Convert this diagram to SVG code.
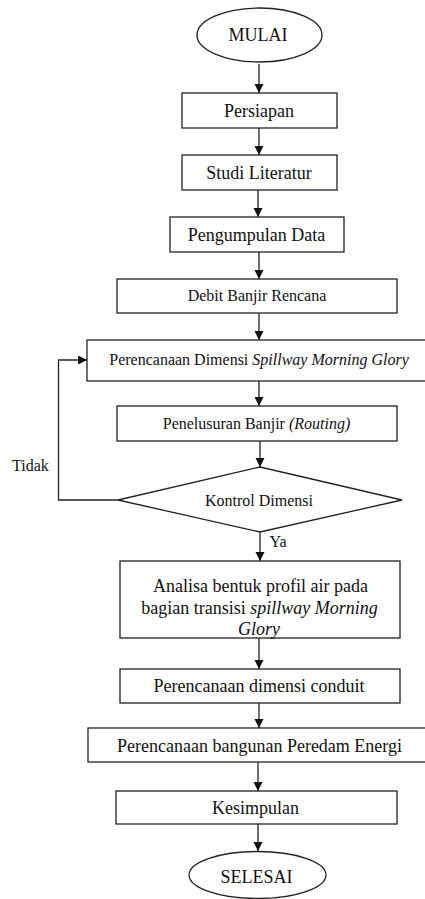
<svg xmlns="http://www.w3.org/2000/svg" width="425" height="899" viewBox="0 0 425 899" font-family="'Liberation Serif', 'Times New Roman', serif">
<style>
.n{fill:#fff;stroke:#222;stroke-width:1.3}
text{font-family:"Liberation Serif","Times New Roman",serif;fill:#111;text-anchor:middle}
.l{font-size:18px}
.s{font-size:16px}
.c{fill:none;stroke:#222;stroke-width:1.3}
</style>
<defs>
<marker id="ah" markerWidth="10" markerHeight="10" refX="9" refY="4.5" orient="auto" markerUnits="userSpaceOnUse">
<path d="M0,0 L9,4.5 L0,9 Z" fill="#111"/>
</marker>
</defs>
<rect width="425" height="899" fill="#fff"/>
<g id="connectors">
<line class="c" x1="259" y1="64" x2="259" y2="93" marker-end="url(#ah)"/>
<line class="c" x1="259" y1="128" x2="259" y2="155" marker-end="url(#ah)"/>
<line class="c" x1="258" y1="190" x2="258" y2="217" marker-end="url(#ah)"/>
<line class="c" x1="259" y1="252" x2="259" y2="279" marker-end="url(#ah)"/>
<line class="c" x1="259" y1="313" x2="259" y2="340" marker-end="url(#ah)"/>
<line class="c" x1="259" y1="381" x2="259" y2="406" marker-end="url(#ah)"/>
<line class="c" x1="260" y1="441" x2="260" y2="467" marker-end="url(#ah)"/>
<polyline class="c" points="118,500 58.5,500 58.5,360 87,360" marker-end="url(#ah)"/>
<line class="c" x1="260" y1="532" x2="260" y2="561" marker-end="url(#ah)"/>
<line class="c" x1="259" y1="638" x2="259" y2="669" marker-end="url(#ah)"/>
<line class="c" x1="259" y1="703" x2="259" y2="728" marker-end="url(#ah)"/>
<line class="c" x1="258" y1="762" x2="258" y2="791" marker-end="url(#ah)"/>
<line class="c" x1="258" y1="824" x2="258" y2="851" marker-end="url(#ah)"/>
<text class="s" x="30.5" y="471" font-family="'Liberation Serif', serif">Tidak</text>
<text class="s" x="278" y="547" font-family="'Liberation Serif', serif">Ya</text>
</g>
<g id="mulai"><ellipse class="n" cx="259.5" cy="35" rx="62.5" ry="27"/><text class="l" x="258" y="41">MULAI</text></g>
<g id="persiapan"><rect class="n" x="182" y="93" width="155" height="35"/><text class="l" x="259" y="117">Persiapan</text></g>
<g id="studi"><rect class="n" x="182" y="155" width="155" height="35"/><text class="l" x="259" y="179">Studi Literatur</text></g>
<g id="pengumpulan"><rect class="n" x="170" y="217" width="174" height="35"/><text class="l" x="256.5" y="240.5">Pengumpulan Data</text></g>
<g id="debit"><rect class="n" x="117" y="279" width="280" height="34"/><text class="s" x="257" y="300.5" font-family="'Liberation Serif', serif">Debit Banjir Rencana</text></g>
<g id="perencanaan-dimensi"><rect class="n" x="87" y="340" width="350" height="41"/><text class="s" x="259" y="364.5" font-family="'Liberation Serif', serif">Perencanaan Dimensi <tspan font-style="italic">Spillway Morning Glory</tspan></text></g>
<g id="penelusuran"><rect class="n" x="117" y="406" width="280" height="35"/><text class="s" x="256.5" y="429" font-family="'Liberation Serif', serif">Penelusuran Banjir <tspan font-style="italic">(Routing)</tspan></text></g>
<g id="kontrol"><polygon class="n" points="118,500 260,467 402,500 260,532"/><text class="s" x="259" y="505.5" font-family="'Liberation Serif', serif">Kontrol Dimensi</text></g>
<g id="analisa"><rect class="n" x="120" y="561" width="280" height="77"/>
<text class="l" x="260.5" y="591.5">Analisa bentuk profil air pada</text>
<text class="l" x="259.5" y="613.5">bagian transisi <tspan font-style="italic">spillway Morning</tspan></text>
<text class="l" x="259" y="635" font-style="italic">Glory</text></g>
<g id="conduit"><rect class="n" x="120" y="669" width="280" height="34"/><text class="l" x="259" y="692">Perencanaan dimensi conduit</text></g>
<g id="peredam"><rect class="n" x="88" y="728" width="350" height="34"/><text class="l" x="259.5" y="752">Perencanaan bangunan Peredam Energi</text></g>
<g id="kesimpulan"><rect class="n" x="116" y="791" width="281" height="33"/><text class="l" x="255.5" y="813.5">Kesimpulan</text></g>
<g id="selesai"><ellipse class="n" cx="257.5" cy="875" rx="68.5" ry="23.5"/><text class="l" x="256.5" y="882.5">SELESAI</text></g>
</svg>
